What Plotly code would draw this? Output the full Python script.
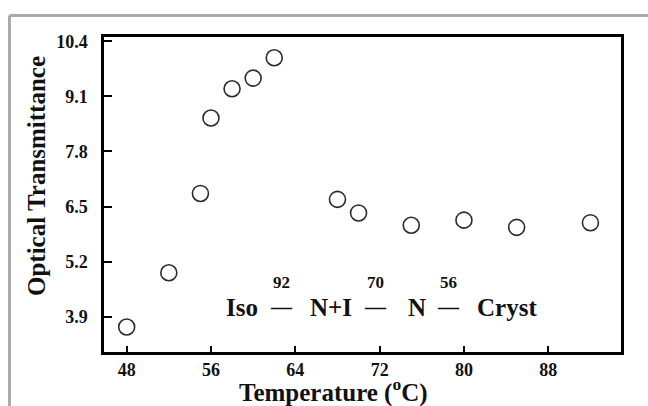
import plotly.graph_objects as go

# Data
temperature = [48, 52, 55, 56, 58, 60, 62, 68, 70, 75, 80, 85, 92]
transmittance = [3.66, 4.94, 6.81, 8.59, 9.28, 9.53, 10.01, 6.67, 6.35, 6.06, 6.18, 6.01, 6.12]

x_ticks = [48, 56, 64, 72, 80, 88]
y_ticks = [3.9, 5.2, 6.5, 7.8, 9.1, 10.4]

# phase sequence annotation
phase_labels = ["Iso", "\u2014", "N+I", "\u2014", "N", "\u2014", "Cryst"]
phase_x = [58.94, 62.69, 67.34, 71.65, 75.54, 78.58, 84.13]
phase_y = 4.13
transition_labels = ["92", "70", "56"]
transition_x = [62.69, 71.65, 78.58]
transition_y = 4.72

FONT = "Liberation Serif, Times New Roman, serif"
W, H = 648, 406
L, R, T, B = 104, 27, 37, 54
PW, PH = W - L - R, H - T - B

fig = go.Figure()
fig.add_trace(go.Scatter(
    x=temperature, y=transmittance, mode="markers",
    marker=dict(symbol="circle-open", size=16, color="#2a2a2a",
                line=dict(width=1.6, color="#2a2a2a")),
    showlegend=False, cliponaxis=False, hoverinfo="skip",
))

annotations = []
for lab, xv in zip(phase_labels, phase_x):
    sz = 21 if lab == "\u2014" else 25
    annotations.append(dict(x=xv, y=phase_y, xref="x", yref="y", text=f"<b>{lab}</b>",
                            xanchor="center", yanchor="middle",
                            showarrow=False, font=dict(family=FONT, size=sz, color="#111")))
for lab, xv in zip(transition_labels, transition_x):
    annotations.append(dict(x=xv, y=transition_y, xref="x", yref="y", text=f"<b>{lab}</b>",
                            xanchor="center", yanchor="middle",
                            showarrow=False, font=dict(family=FONT, size=17, color="#111")))

# axis titles
annotations.append(dict(x=(36 - L) / PW, y=(H - B - 176) / PH, xref="paper", yref="paper",
                        xanchor="center", yanchor="middle",
                        text="<b>Optical Transmittance</b>", textangle=-90, showarrow=False,
                        font=dict(family=FONT, size=25, color="#111")))
annotations.append(dict(x=(333 - L) / PW, y=-(390 - (H - B)) / PH, xref="paper", yref="paper",
                        xanchor="center", yanchor="middle",
                        text="<b>Temperature (<sup>o</sup>C)</b>", showarrow=False,
                        font=dict(family=FONT, size=25, color="#111")))

fx = (9.5 - L) / PW
fy = 1 + (T - 15.5) / PH
fig.update_layout(
    width=W, height=H,
    margin=dict(l=L, r=R, t=T, b=B),
    paper_bgcolor="white", plot_bgcolor="white",
    annotations=annotations,
    shapes=[
        dict(type="line", xref="paper", yref="paper", x0=fx, x1=1.2, y0=fy, y1=fy,
             line=dict(color="#aaaaaa", width=3)),
        dict(type="line", xref="paper", yref="paper", x0=fx, x1=fx, y0=fy, y1=-0.3,
             line=dict(color="#aaaaaa", width=3)),
    ],
)
fig.update_xaxes(range=[45.85, 94.9], tickvals=x_ticks, ticktext=[f"<b>{v}</b>" for v in x_ticks],
                 ticks="inside", ticklen=6, tickwidth=2, tickcolor="black",
                 showline=True, linewidth=2.5, linecolor="black", mirror=True,
                 showgrid=False, zeroline=False,
                 tickfont=dict(family=FONT, size=18, color="#111"))
fig.update_yaxes(range=[3.07, 10.5], tickvals=y_ticks, ticktext=[f"<b>{v:.1f}</b>" for v in y_ticks],
                 ticks="inside", ticklen=8, tickwidth=2, tickcolor="black",
                 showline=True, linewidth=2.5, linecolor="black", mirror=True,
                 showgrid=False, zeroline=False, ticklabelstandoff=10,
                 tickfont=dict(family=FONT, size=18, color="#111"))

fig.write_html("out.html", config={"displayModeBar": False},
               post_script="document.body.style.margin='0px';")
